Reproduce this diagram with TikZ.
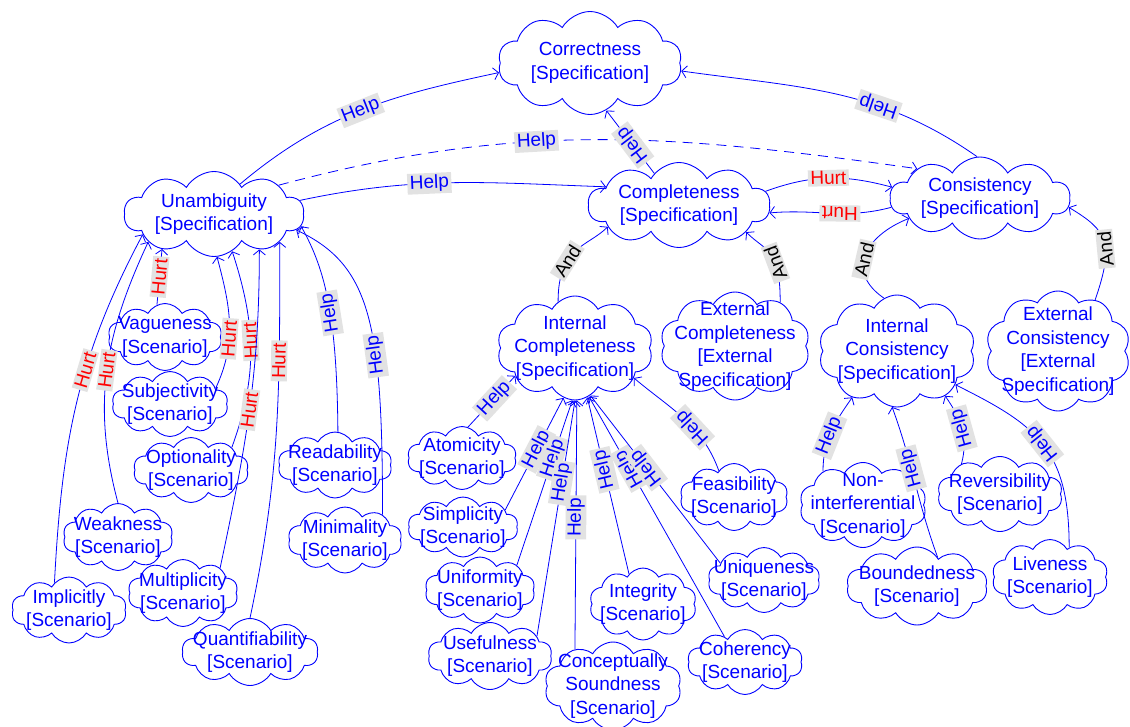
\documentclass[tikz,border=0pt]{standalone}
\usepackage{fontspec}
\setmainfont{Liberation Sans}
\usetikzlibrary{shapes.symbols,arrows.meta}
\definecolor{lblgray}{RGB}{226,226,226}
% cloud outline plus a separate text node on top of it
\newcommand{\softgoal}[6]{%
  \node[cl, minimum width=#4pt, minimum height=#5pt] (#1) at (#2,-#3) {};
  \node[tx] (#1-t) at (#2,-#3) {#6};}
\begin{document}
\begin{tikzpicture}[x=1pt,y=1pt,
  cl/.style={cloud, draw=blue, line width=0.9pt, cloud puffs=10, cloud puff arc=120,
             cloud ignores aspect, inner sep=0pt},
  tx/.style={text=blue, align=center, font=\fontsize{19}{23.5}\selectfont, inner sep=0pt},
  ln/.style={draw=blue, line width=0.8pt, -{Straight Barb[length=5pt,width=12pt]}},
  lb/.style={sloped, allow upside down, fill=lblgray, inner xsep=2.5pt, inner ysep=1.5pt,
             font=\fontsize{19}{21}\selectfont},
  hl/.style={lb, text=blue},
  hu/.style={lb, text=red},
  an/.style={lb, text=black},
]
\fill[white] (0,0) rectangle (1130,-726);
\useasboundingbox (0,0) rectangle (1130,-726);

% main softgoals
\softgoal{cor}{590}{63}{184}{103}{Correctness\\{}[Specification]}
\softgoal{una}{214}{214}{180}{85}{Unambiguity\\{}[Specification]}
\softgoal{com}{679}{205}{182}{85}{Completeness\\{}[Specification]}
\softgoal{con}{980}{198}{180}{82}{Consistency\\{}[Specification]}
\softgoal{ic}{575}{348}{156}{104}{Internal\\Completeness\\{}[Specification]}
\softgoal{ec}{735}{346}{150}{108}{External\\Completeness\\{}[External\\Specification]}
\softgoal{icons}{897}{351}{157}{112}{Internal\\Consistency\\{}[Specification]}
\softgoal{econ}{1058}{351}{145}{120}{External\\Consistency\\{}[External\\Specification]}

% scenarios of unambiguity
\softgoal{vag}{165}{337}{114}{67}{Vagueness\\{}[Scenario]}
\softgoal{sub}{170}{404}{116}{65}{Subjectivity\\{}[Scenario]}
\softgoal{opt}{191}{470}{115}{65}{Optionality\\{}[Scenario]}
\softgoal{wea}{118}{537}{110}{67}{Weakness\\{}[Scenario]}
\softgoal{imp}{69}{610}{115}{66}{Implicitly\\{}[Scenario]}
\softgoal{mul}{183}{593}{110}{67}{Multiplicity\\{}[Scenario]}
\softgoal{qua}{250}{652}{136}{67}{Quantifiability\\{}[Scenario]}
\softgoal{rea}{335}{465}{114}{66}{Readability\\{}[Scenario]}
\softgoal{min}{345}{540}{114}{66}{Minimality\\{}[Scenario]}

% scenarios of internal completeness
\softgoal{ato}{462}{458}{109}{63}{Atomicity\\{}[Scenario]}
\softgoal{sim}{463}{527}{110}{60}{Simplicity\\{}[Scenario]}
\softgoal{uni}{480}{590}{110}{66}{Uniformity\\{}[Scenario]}
\softgoal{use}{490}{656}{124}{67}{Usefulness\\{}[Scenario]}
\softgoal{cs}{613}{686}{137}{88}{Conceptually\\Soundness\\{}[Scenario]}
\softgoal{int}{643}{604}{107}{72}{Integrity\\{}[Scenario]}
\softgoal{coh}{745}{662}{115}{65}{Coherency\\{}[Scenario]}
\softgoal{uq}{764}{580}{112}{65}{Uniqueness\\{}[Scenario]}
\softgoal{fea}{734}{497}{108}{67}{Feasibility\\{}[Scenario]}

% scenarios of internal consistency
\softgoal{non}{863}{505}{127}{85}{Non-\\interferential\\{}[Scenario]}
\softgoal{rev}{1000}{494}{125}{75}{Reversibility\\{}[Scenario]}
\softgoal{bou}{917}{586}{141}{78}{Boundedness\\{}[Scenario]}
\softgoal{liv}{1050}{577}{116}{75}{Liveness\\{}[Scenario]}

% links between the main softgoals
\draw[ln] (una.49) to[out=40,in=192] node[hl,pos=.5]{Help} (cor.186);
\draw[ln,dash pattern=on 10pt off 7pt] (una.24) to[out=15,in=172] node[hl,pos=.4]{Help} (con.155);
\draw[ln] (una.9) to[out=12,in=178] node[hl,pos=.42]{Help} (com.166);
\draw[ln] (com.128) -- node[hl,pos=.45]{Help} (cor.-71);
\draw[ln] (con.94) to[out=145,in=-8] node[hl,pos=.35]{Help} (cor.-5);
\draw[ln] (com.9) to[out=20,in=165] node[hu,pos=.5]{Hurt} (con.173);
\draw[ln] (con.186) to[out=195,in=5] node[hu,pos=.42]{Hurt} (com.-5);
\draw[ln] (ic.110) .. controls +(0,55) and +(-20,-20) .. node[an,pos=.35]{And} (com.197);
\draw[ln] (ec.44) .. controls +(0,55) and +(20,-20) .. node[an,pos=.35]{And} (com.-22);
\draw[ln] (icons.104) .. controls +(-38,26) and +(-45,-18) .. node[an,pos=.45]{And} (con.196);
\draw[ln] (econ.54) .. controls +(20,58) and +(38,-23) .. node[an,pos=.4]{And} (con.-6);

% contributions to unambiguity
\draw[ln] (vag.104) -- node[hu]{Hurt} (una.214);
\draw[ln] (sub.19) to[out=65,in=-75] node[hu,pos=.38]{Hurt} (una.-86);
\draw[ln] (opt.29) to[out=70,in=-72] node[hu,pos=.55]{Hurt} (una.-64);
\draw[ln] (mul.34) to[out=78,in=-90] node[hu,pos=.5]{Hurt} (una.-38);
\draw[ln] (qua.90) to[out=78,in=-90] node[hu,pos=.7]{Hurt} (una.-23);
\draw[ln] (rea.85) .. controls +(-1,113) and +(25,-44) .. node[hl,pos=.45]{Help} (una.-8);
\draw[ln] (min.34) .. controls +(0,190) and +(75,-35) .. node[hl,pos=.36]{Help} (una.-11);
\draw[ln] (wea.90) to[out=105,in=-115] node[hu,pos=.5]{Hurt} (una.203);
\draw[ln] (imp.118) to[out=87,in=-118] node[hu,pos=.6]{Hurt} (una.196);

% contributions to internal completeness
\draw[ln] (ato.79) -- node[hl,pos=.56]{Help} (ic.205);
\draw[ln] (sim.22) -- node[hl,pos=.54]{Help} (ic.-103);
\draw[ln] (uni.34) -- node[hl,pos=.65]{Help} (ic.-93);
\draw[ln] (use.23) -- node[hl,pos=.65]{Help} (ic.-90);
\draw[ln] (cs.136) -- node[hl,pos=.53]{Help} (ic.-88);
\draw[ln] (int.115) -- node[hl,pos=.59]{Help} (ic.-76);
\draw[ln] (coh.129) -- node[hl,pos=.7]{Help} (ic.-74);
\draw[ln] (uq.159) -- node[hl,pos=.57]{Help} (ic.-72);
\draw[ln] (fea.120) to[out=110,in=-40] node[hl,pos=.4]{Help} (ic.-27);

% contributions to internal consistency
\draw[ln] (non.140) to[out=90,in=235] node[hl,pos=.45]{Help} (icons.226);
\draw[ln] (bou.54) to[out=110,in=-70] node[hl,pos=.6]{Help} (icons.-95);
\draw[ln] (rev.142) to[out=75,in=-55] node[hl,pos=.5]{Help} (icons.-43);
\draw[ln] (liv.57) .. controls +(0,100) and +(80,-40) .. node[hl,pos=.5]{Help} (icons.-30);
\end{tikzpicture}
\end{document}
